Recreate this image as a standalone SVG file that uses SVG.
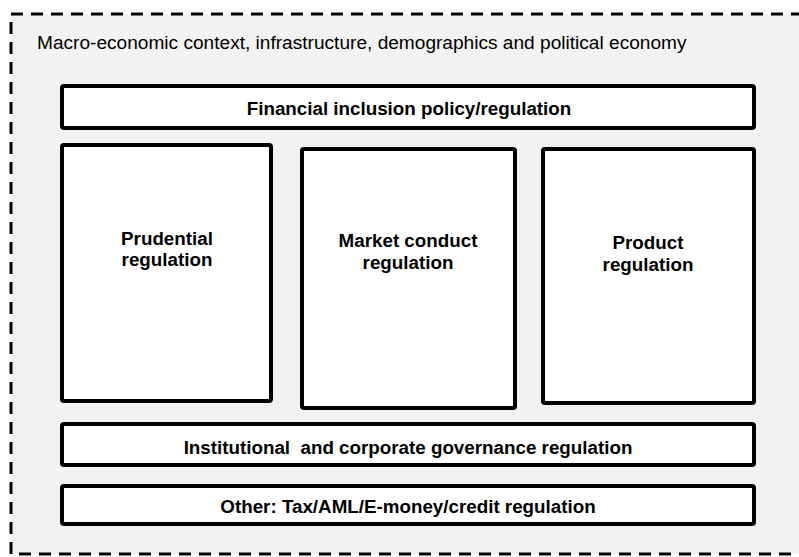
<svg xmlns="http://www.w3.org/2000/svg" width="799" height="557" viewBox="0 0 799 557">
<style>
.box{fill:#ffffff;stroke:#000000;stroke-width:4}
.t{font-family:"Liberation Sans",Arial,sans-serif;font-weight:bold;font-size:18.8px;fill:#000;text-anchor:middle}
</style>
<rect id="context" x="11" y="14" width="800" height="540" fill="#f2f2f2" stroke="#000" stroke-width="3" stroke-dasharray="12 8"/>
<text x="37" y="49" font-family="Liberation Sans, Arial, sans-serif" font-size="19.1" fill="#000">Macro-economic context, infrastructure, demographics and political economy</text>
<g id="financial"><rect class="box" x="62" y="86" width="692" height="42" rx="2"/><text class="t" x="409" y="115">Financial inclusion policy/regulation</text></g>
<g id="prudential"><rect class="box" x="62" y="145" width="209" height="256" rx="2"/><text class="t" x="167" y="245">Prudential</text><text class="t" x="167" y="266">regulation</text></g>
<g id="market"><rect class="box" x="302" y="149" width="213" height="259" rx="2"/><text class="t" x="408" y="247">Market conduct</text><text class="t" x="408" y="269">regulation</text></g>
<g id="product"><rect class="box" x="543" y="149" width="211" height="254" rx="2"/><text class="t" x="648" y="249">Product</text><text class="t" x="648" y="271">regulation</text></g>
<g id="institutional"><rect class="box" x="62" y="424" width="692" height="41" rx="2"/><text class="t" x="408" y="454" xml:space="preserve">Institutional  and corporate governance regulation</text></g>
<g id="other"><rect class="box" x="62" y="486" width="692" height="38" rx="2"/><text class="t" x="408" y="513">Other: Tax/AML/E-money/credit regulation</text></g>
<g id="connectors"></g>
</svg>
